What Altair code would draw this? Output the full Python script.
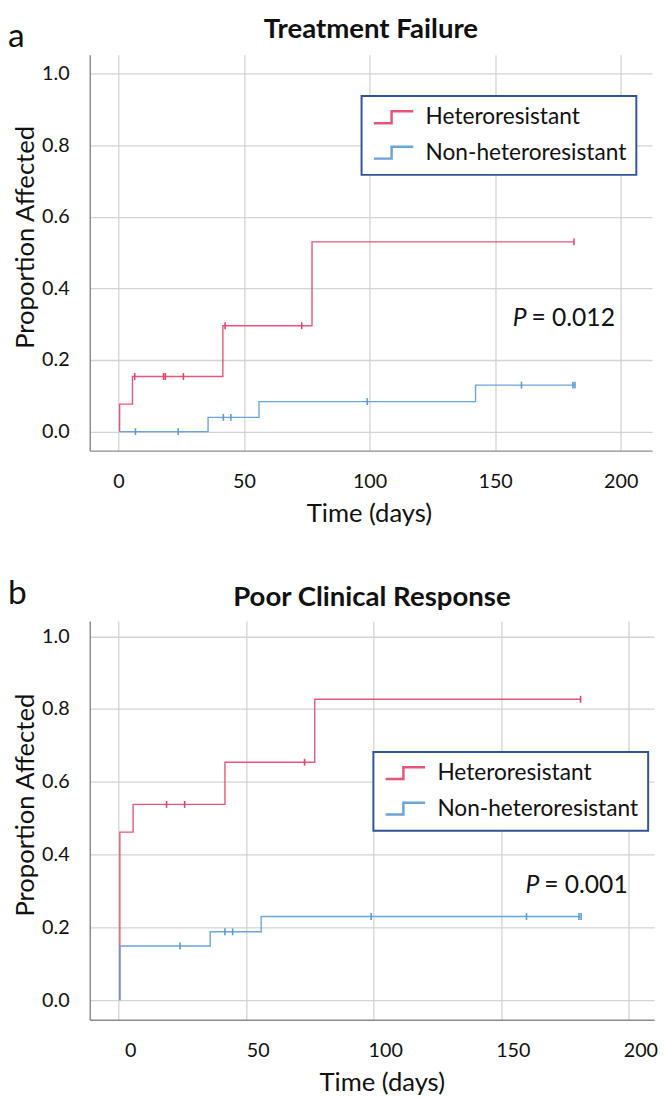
import altair as alt
import pandas as pd

FONT = "Lato"
GROUPS = ["Heteroresistant", "Non-heteroresistant"]
LINE_COLORS = ["#E5426A", "#5B9BD5"]

x_ticks = [0, 50, 100, 150, 200]
y_ticks = [0.0, 0.2, 0.4, 0.6, 0.8, 1.0]

# ---- panel a: Treatment Failure ----
a_het_time = [0.5, 0.5, 5.6, 41.6, 77.1, 181.4]
a_het_prop = [0.0, 0.077, 0.154, 0.296, 0.530, 0.530]
a_het_cens = [6.5, 18.0, 18.7, 25.9, 42.5, 73.0, 181.4]
a_non_time = [0.5, 35.7, 56.0, 142.2, 181.8]
a_non_prop = [0.0, 0.040, 0.084, 0.130, 0.130]
a_non_cens = [6.8, 23.8, 41.8, 44.8, 99.1, 160.5, 181.0, 181.8]
a_pval = "= 0.012"

# ---- panel b: Poor Clinical Response ----
b_het_time = [0.6, 0.6, 5.8, 41.8, 77.0, 181.2]
b_het_prop = [0.0, 0.462, 0.538, 0.654, 0.827, 0.827]
b_het_cens = [18.9, 26.0, 73.0, 181.2]
b_non_time = [0.6, 0.6, 36.0, 56.0, 181.0]
b_non_prop = [0.0, 0.149, 0.188, 0.230, 0.230]
b_non_cens = [24.2, 41.8, 44.8, 99.1, 160.0, 180.6, 181.4]
b_pval = "= 0.001"


def level(times, props, t):
    val = props[0]
    for ti, pi in zip(times, props):
        if ti <= t:
            val = pi
    return val


def curves(het_t, het_p, non_t, non_p):
    d1 = pd.DataFrame({"time": het_t, "prop": het_p, "group": GROUPS[0],
                       "order": list(range(len(het_t)))})
    d2 = pd.DataFrame({"time": non_t, "prop": non_p, "group": GROUPS[1],
                       "order": list(range(len(non_t)))})
    return pd.concat([d1, d2], ignore_index=True)


def censors(het_t, het_p, het_c, non_t, non_p, non_c):
    rows = [{"time": c, "prop": level(het_t, het_p, c), "group": GROUPS[0]} for c in het_c]
    rows += [{"time": c, "prop": level(non_t, non_p, c), "group": GROUPS[1]} for c in non_c]
    return pd.DataFrame(rows)


def panel(letter, title, het_t, het_p, het_c, non_t, non_p, non_c, pval,
          xdom, ydom, w, h, leg_xy, p_pos, label_off, letter_y, title_y):
    xs = alt.Scale(domain=xdom, nice=False, zero=False)
    ys = alt.Scale(domain=ydom, nice=False, zero=False)
    xaxis = alt.Axis(values=x_ticks, format="d", title="Time (days)", grid=True,
                     ticks=False, tickSize=0, domainColor="#8C8C8C", domainWidth=1.5,
                     gridColor="#D3D3D3", gridWidth=1.3, labelFont=FONT, labelFontSize=20,
                     labelColor="#111", labelPadding=21, labelOffset=label_off,
                     labelFlush=False, titleFont=FONT, titleFontSize=26,
                     titleFontWeight="normal", titleColor="#111", titlePadding=10,
                     titleX=w / 2 + label_off - 2)
    yaxis = alt.Axis(values=y_ticks, format=".1f", title="Proportion Affected", grid=True,
                     ticks=False, tickSize=0, domainColor="#8C8C8C", domainWidth=1.5,
                     gridColor="#D3D3D3", gridWidth=1.3, labelFont=FONT, labelFontSize=20,
                     labelColor="#111", labelPadding=21, titleFont=FONT, titleFontSize=26,
                     titleFontWeight="normal", titleColor="#111", titlePadding=3,
                     titleY=h / 2 - 16)
    legend = alt.Legend(title=None, orient="none", legendX=leg_xy[0], legendY=leg_xy[1],
                        symbolType="M-2,0.6H-0.2V-0.6H2", symbolSize=400,
                        symbolStrokeWidth=2.5, symbolFillColor="transparent",
                        symbolOffset=11, labelOffset=21, labelFont=FONT,
                        labelFontSize=23, labelLimit=400, labelColor="#111", padding=10,
                        rowPadding=12, strokeColor="#2F5597", fillColor="white")
    color = alt.Color("group:N", scale=alt.Scale(domain=GROUPS, range=LINE_COLORS),
                      legend=legend)
    X = alt.X("time:Q", scale=xs, axis=xaxis)
    Y = alt.Y("prop:Q", scale=ys, axis=yaxis)

    lines = alt.Chart(curves(het_t, het_p, non_t, non_p)).mark_line(
        interpolate="step-after", strokeWidth=1.4, opacity=0.9
    ).encode(x=X, y=Y, color=color, order="order:Q")

    cens = alt.Chart(censors(het_t, het_p, het_c, non_t, non_p, non_c)).mark_point(
        shape="M0,-1V1", size=49, strokeWidth=1.6, filled=False, opacity=1
    ).encode(x=X, y=Y, color=color)

    ann = pd.DataFrame({"time": [p_pos[0]], "prop": [p_pos[1]]})
    p_it = alt.Chart(ann).mark_text(text="P", font=FONT, fontSize=25, fontStyle="italic",
                                    align="right", baseline="middle", color="#111"
                                    ).encode(x=X, y=Y)
    p_rest = alt.Chart(ann).mark_text(text=pval, font=FONT, fontSize=25, align="left",
                                      baseline="middle", dx=5, color="#111"
                                      ).encode(x=X, y=Y)

    one = pd.DataFrame({"k": [0]})
    let = alt.Chart(one).mark_text(text=letter, font=FONT, fontSize=34, align="left",
                                   baseline="alphabetic", color="#111"
                                   ).encode(x=alt.value(-83), y=alt.value(letter_y))
    ttl = alt.Chart(one).mark_text(text=title, font=FONT, fontSize=28, fontWeight="bold",
                                   align="center", baseline="alphabetic", color="#111"
                                   ).encode(x=alt.value(w / 2), y=alt.value(title_y))

    return alt.layer(lines, cens, p_it, p_rest, let, ttl).properties(width=w, height=h)


pa = panel("a", "Treatment Failure", a_het_time, a_het_prop, a_het_cens,
           a_non_time, a_non_prop, a_non_cens, a_pval,
           [-11.4, 212.5], [-0.053, 1.053], 571, 402, (276, 42), (162.5, 0.316), 0, -8, -17)
pb = panel("b", "Poor Clinical Response", b_het_time, b_het_prop, b_het_cens,
           b_non_time, b_non_prop, b_non_cens, b_pval,
           [-11.2, 210.0], [-0.054, 1.042], 573, 405, (288, 133), (165.0, 0.316), 12, -17, -15)

chart = alt.vconcat(pa, pb, spacing=52).resolve_scale(
    color="independent", x="independent", y="independent"
).resolve_legend(color="independent").properties(padding=0).configure_view(
    strokeWidth=0
).configure_legend(strokeWidth=2)

chart.save("out.html", embed_options={"renderer": "svg", "actions": False})
